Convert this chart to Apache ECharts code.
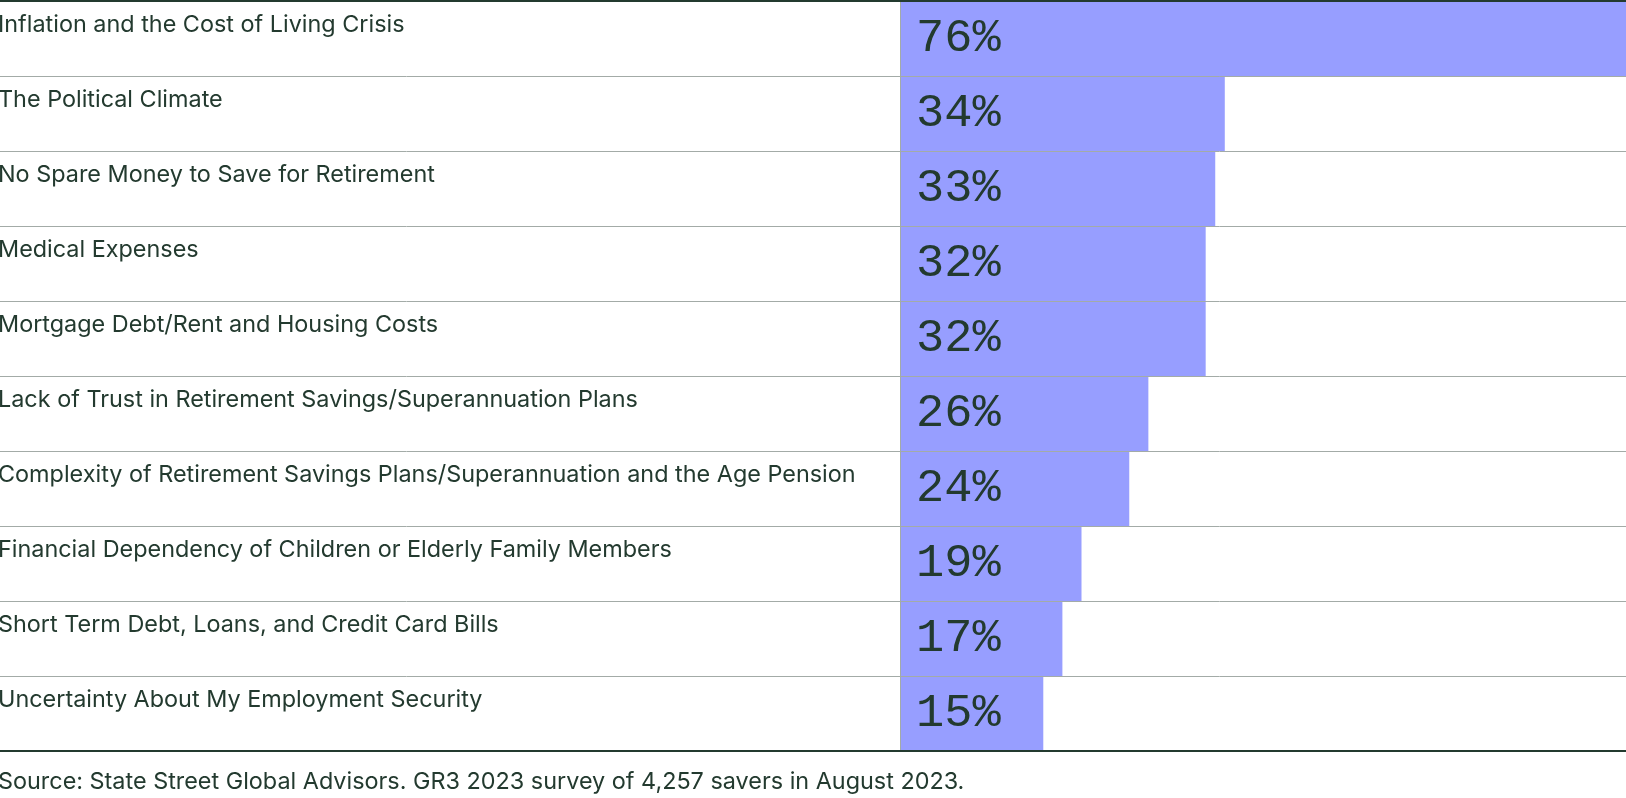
<!DOCTYPE html>
<html>
<head>
<meta charset="utf-8">
<style>
html,body{margin:0;padding:0;background:#fff;overflow:hidden;}
#chart{width:1626px;height:798px;display:block;}
</style>
<script src="https://cdn.jsdelivr.net/npm/echarts@6/dist/echarts.min.js"></script>
</head>
<body>
<div id="chart"></div>
<script>
const categories = [
  "Inflation and the Cost of Living Crisis",
  "The Political Climate",
  "No Spare Money to Save for Retirement",
  "Medical Expenses",
  "Mortgage Debt/Rent and Housing Costs",
  "Lack of Trust in Retirement Savings/Superannuation Plans",
  "Complexity of Retirement Savings Plans/Superannuation and the Age Pension",
  "Financial Dependency of Children or Elderly Family Members",
  "Short Term Debt, Loans, and Credit Card Bills",
  "Uncertainty About My Employment Security"
];
const values = [76, 34, 33, 32, 32, 26, 24, 19, 17, 15];
const sourceText = "Source: State Street Global Advisors. GR3 2023 survey of 4,257 savers in August 2023.";

const W = 1626, barStart = 900;
const maxV = 76;
const minV = -maxV * barStart / (W - barStart);
const dark = '#233a2f';
const gray = '#a3aba7';

const chart = echarts.init(document.getElementById('chart'), null, {renderer: 'canvas'});
chart.setOption({
  animation: false,
  grid: {left: 0, right: 0, top: 1, bottom: 47, containLabel: false, outerBoundsMode: 'none'},
  title: {
    text: sourceText, left: -2, top: 770, padding: 0,
    textStyle: {fontFamily: 'Inter', fontSize: 23.4, fontWeight: 'normal', color: dark}
  },
  xAxis: [{
    type: 'value', min: minV, max: maxV, position: 'bottom', z: 12,
    axisLine: {show: true, onZero: false, lineStyle: {color: dark, width: 2}},
    axisTick: {show: false}, axisLabel: {show: false}, splitLine: {show: false}
  }, {
    type: 'value', min: minV, max: maxV, position: 'top', z: 12,
    axisLine: {show: true, onZero: false, lineStyle: {color: dark, width: 2}},
    axisTick: {show: false}, axisLabel: {show: false}, splitLine: {show: false}
  }],
  yAxis: {
    type: 'category', data: categories, inverse: true, z: 10,
    axisLine: {show: false, onZero: false}, axisTick: {show: false},
    splitLine: {show: true, lineStyle: {color: gray, width: 1}},
    axisLabel: {
      align: 'left', margin: 2, color: dark, fontFamily: 'Inter', fontSize: 23.4,
      verticalAlign: 'bottom', lineHeight: 27
    }
  },
  series: [{
    type: 'bar', data: values, barCategoryGap: 0, barWidth: '100%',
    itemStyle: {color: '#979eff'},
    label: {
      show: true, position: 'insideLeft', distance: 16, formatter: '{c}%',
      fontFamily: 'Liberation Mono', fontSize: 47, color: dark
    },
    markLine: {
      silent: true, symbol: 'none', label: {show: false},
      lineStyle: {color: gray, type: 'solid', width: 1},
      data: [{xAxis: 0}]
    }
  }]
});
</script>
</body>
</html>
